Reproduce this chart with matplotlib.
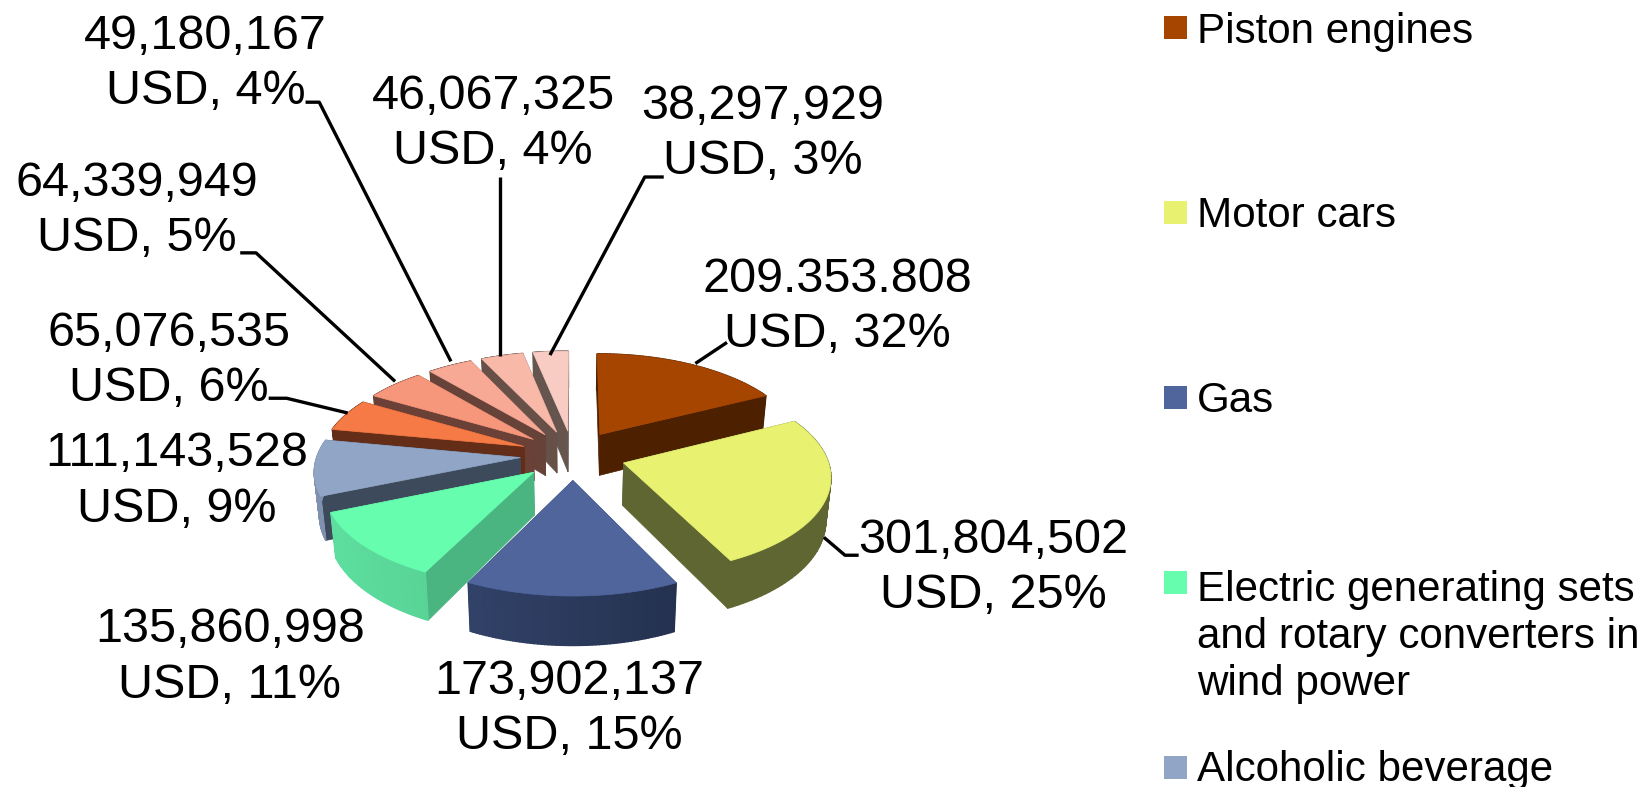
import numpy as np
import matplotlib
matplotlib.use("Agg")
import matplotlib.pyplot as plt
from matplotlib.patches import Polygon, Rectangle

categories = ["Piston engines", "Motor cars", "Gas",
              "Electric generating sets\nand rotary converters in\nwind power",
              "Alcoholic beverage"]
values = [209353808, 301804502, 173902137, 135860998, 111143528,
          65076535, 64339949, 49180167, 46067325, 38297929]
value_texts = ["209.353.808", "301,804,502", "173,902,137", "135,860,998", "111,143,528",
               "65,076,535", "64,339,949", "49,180,167", "46,067,325", "38,297,929"]
percents = [32, 25, 15, 11, 9, 6, 5, 4, 4, 3]

top_colors = ["#a64500", "#e8f270", "#4f659c", "#66fdaf", "#91a6c6",
              "#f57a45", "#f6967a", "#f7a995", "#f9b9a9", "#f8ccc2"]
radial_colors = ["#4d2000", "#5f6632", "#2f3f63", "#4ab580", "#3d4a5c",
                 "#642d17", "#6b4036", "#664238", "#665048", "#66554f"]
curve_left = ["#4d2000", "#5f6632", "#3a4c78", "#5ee0a0", "#7f91ae",
              "#642d17", "#6b4036", "#664238", "#665048", "#66554f"]
curve_right = ["#4d2000", "#5f6632", "#1c2840", "#4ab580", "#7f91ae",
               "#642d17", "#6b4036", "#664238", "#665048", "#66554f"]
legend_colors = top_colors[:5]

# layout (pixels)
W, H = 1652, 787
CX, CY, RX, RY, PERSP, DEPTH, EXPLODE = 573, 455, 203, 95, 0.12, 42, 0.26
S = 1652 / 1568
label_centers = [(795, 291), (943, 539), (540, 673), (218, 624), (168, 457),
                 (160, 343), (130, 200), (195, 61), (468, 118), (724, 127)]
leaders = [[(690, 325), (660, 345)],
           [(782, 510), (802, 527), (815, 527)],
           None, None, None,
           [(255, 378), (272, 378), (330, 392)],
           [(228, 240), (243, 240), (375, 362)],
           [(290, 97), (303, 97), (428, 343)],
           [(475, 168), (475, 338)],
           [(630, 168), (612, 168), (522, 337)]]
legend_baselines = [43, 227, 412, 695, 781]
legend_box_tops = [16, 201, 386, 571, 756]

plt.rcParams["font.family"] = ["Liberation Sans", "DejaVu Sans"]
fig = plt.figure(figsize=(W / 100, H / 100), dpi=100)
ax = fig.add_axes([0, 0, 1, 1])
ax.set_xlim(0, W)
ax.set_ylim(H, 0)
ax.axis("off")


def project(u, v):
    s = 1 / (1 + PERSP * v)
    return CX + RX * u * s, CY - RY * v * s, s


def bottom(u, v):
    x, y, s = project(u, v)
    return CX + (x - CX) * 0.98, y + DEPTH * s


def hexmix(a, b, t):
    ca, cb = np.array(matplotlib.colors.to_rgb(a)), np.array(matplotlib.colors.to_rgb(b))
    return tuple(ca + (cb - ca) * t)


fractions = np.array(values, dtype=float) / np.sum(values)
edges = np.concatenate([[0], np.cumsum(fractions)]) * 2 * np.pi

slices = []
for i in range(len(values)):
    a0, a1 = edges[i], edges[i + 1]
    mid = (a0 + a1) / 2
    ou, ov = EXPLODE * np.sin(mid), EXPLODE * np.cos(mid)
    th = np.linspace(a0, a1, 60)
    us, vs = ou + np.sin(th), ov + np.cos(th)
    slices.append((project(ou, ov)[1], i, ou, ov, us, vs))

for _, i, ou, ov, us, vs in sorted(slices, key=lambda t: t[0]):
    # radial faces
    for ue, ve in ((us[0], vs[0]), (us[-1], vs[-1])):
        pts = [project(ou, ov)[:2], project(ue, ve)[:2], bottom(ue, ve), bottom(ou, ov)]
        ax.add_patch(Polygon(pts, closed=True, fc=radial_colors[i], ec=radial_colors[i], lw=0.5))
    # curved outer face
    for j in range(len(us) - 1):
        t = (np.sin(np.arctan2(us[j] - ou, vs[j] - ov)) + 1) / 2
        col = hexmix(curve_left[i], curve_right[i], t)
        pts = [project(us[j], vs[j])[:2], project(us[j + 1], vs[j + 1])[:2],
               bottom(us[j + 1], vs[j + 1]), bottom(us[j], vs[j])]
        ax.add_patch(Polygon(pts, closed=True, fc=col, ec=col, lw=1.0))
    # top face
    pts = [project(ou, ov)[:2]] + [project(a, b)[:2] for a, b in zip(us, vs)]
    ax.add_patch(Polygon(pts, closed=True, fc=top_colors[i], ec=top_colors[i], lw=0.5))

for i, (txt, pct) in enumerate(zip(value_texts, percents)):
    x, y = label_centers[i]
    ax.text(x * S, y * S, f"{txt}\nUSD, {pct}%", fontsize=34.9, ha="center", va="center",
            linespacing=1.29, color="black")
    if leaders[i]:
        pts = np.array(leaders[i]) * S
        ax.plot(pts[:, 0], pts[:, 1], color="black", lw=2.4, solid_capstyle="butt")

for name, col, base, top in zip(categories, legend_colors, legend_baselines, legend_box_tops):
    ax.add_patch(Rectangle((1164, top), 23, 23, fc=col, ec="none"))
    ax.text(1197, base, name, fontsize=30.3, ha="left", va="baseline", linespacing=1.23, color="black")

fig.savefig("out.png", dpi=100, facecolor="white")
